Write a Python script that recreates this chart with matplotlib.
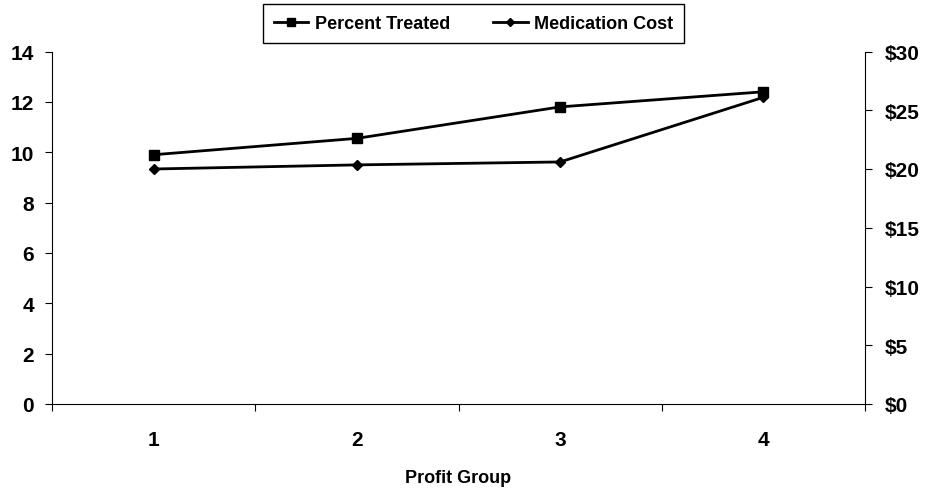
import matplotlib
matplotlib.use('Agg')
import matplotlib.pyplot as plt
from matplotlib.ticker import FuncFormatter

groups = [1, 2, 3, 4]
group_labels = ['1', '2', '3', '4']
percent_treated = [9.9, 10.55, 11.8, 12.4]
medication_cost = [20.0, 20.35, 20.6, 26.1]

plt.rcParams['font.family'] = ['Liberation Sans', 'DejaVu Sans']
plt.rcParams['font.weight'] = 'bold'

W, H = 926, 489
fig = plt.figure(figsize=(W / 100, H / 100), dpi=100)
ax = fig.add_axes([52 / W, 1 - 405 / H, 813 / W, 352.5 / H])
ax2 = ax.twinx()

l1, = ax.plot(groups, percent_treated, color='black', linewidth=2, marker='s',
              markersize=7.5, label='Percent Treated')
l2, = ax2.plot(groups, medication_cost, color='black', linewidth=2, marker='D',
               markersize=4.8, label='Medication Cost')

ax.set_xlim(0.5, 4.5)
ax.set_ylim(0, 14)
ax2.set_ylim(0, 30)
ax.set_yticks(range(0, 15, 2))
ax2.set_yticks(range(0, 31, 5))
ax2.yaxis.set_major_formatter(FuncFormatter(lambda v, p: '$%d' % v))

# category boundaries get the tick marks, labels sit in the middle
ax.set_xticks([0.5, 1.5, 2.5, 3.5, 4.5])
ax.set_xticklabels([])
ax.set_xticks(groups, minor=True)
ax.set_xticklabels(group_labels, minor=True)
ax.tick_params(axis='x', which='major', length=5, direction='out', width=0.8)
ax.tick_params(axis='x', which='minor', length=0, pad=19, labelsize=15)
ax.tick_params(axis='y', length=5, labelsize=15, pad=8)
ax2.tick_params(axis='y', length=5, labelsize=15, pad=9)

for a in (ax, ax2):
    a.spines['top'].set_visible(False)
    a.set_facecolor('none')
ax.spines['right'].set_visible(False)
ax2.spines['left'].set_visible(False)
ax2.spines['bottom'].set_visible(False)

ax.set_xlabel('Profit Group', fontsize=13, fontweight='bold')
ax.xaxis.set_label_coords(0.5, -(470 - 405) / 352.5)

fig.legend(handles=[l1, l2], loc='upper center',
           bbox_to_anchor=(473.5 / W, 1 - 5 / H), bbox_transform=fig.transFigure,
           borderaxespad=0, ncol=2, fancybox=False, edgecolor='black',
           framealpha=1, prop={'size': 13, 'weight': 'bold'},
           handlelength=1.9, handletextpad=0.35, columnspacing=2.4,
           borderpad=0.6, markerscale=0.8)

fig.savefig('out.png', dpi=100)
